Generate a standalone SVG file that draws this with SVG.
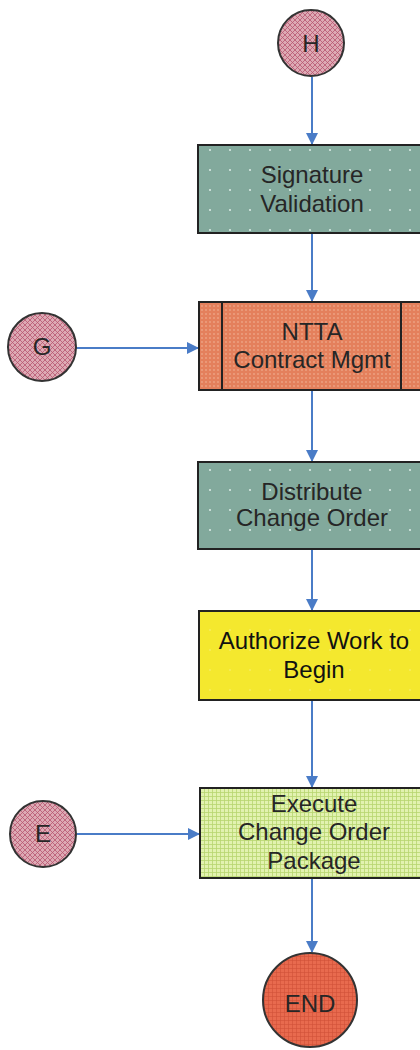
<svg xmlns="http://www.w3.org/2000/svg" width="420" height="1050" viewBox="0 0 420 1050">
<style>
.lbl{font-family:"Liberation Sans",Arial,sans-serif;font-size:24px;fill:#262626;text-anchor:middle}
.box{stroke:#222;stroke-width:2}
.circ{stroke:#333;stroke-width:2}
.con{stroke:#4a7cc7;stroke-width:2;fill:none;marker-end:url(#arr)}
</style>
<defs>
<marker id="arr" markerWidth="12" markerHeight="12" refX="11" refY="6" orient="auto" markerUnits="userSpaceOnUse">
<path d="M0,0 L12,6 L0,12 z" fill="#4a7cc7"/>
</marker>
<pattern id="pinkP" width="5" height="5" patternUnits="userSpaceOnUse">
<rect width="5" height="5" fill="#ddaab4"/>
<path d="M0,0 L5,5 M5,0 L0,5" stroke="#b85670" stroke-width="0.8"/>
</pattern>
<pattern id="tealP" width="20" height="20" patternUnits="userSpaceOnUse">
<rect width="20" height="20" fill="#82a99c"/>
<circle cx="10" cy="10" r="1" fill="#dfeee8"/>
</pattern>
<pattern id="orP" width="4" height="4" patternUnits="userSpaceOnUse">
<rect width="4" height="4" fill="#e4805c"/>
<circle cx="2" cy="2" r="0.7" fill="#f6c2a8"/>
</pattern>
<pattern id="yelP" width="20" height="20" patternUnits="userSpaceOnUse">
<rect width="20" height="20" fill="#f4e82e"/>
<circle cx="10" cy="10" r="0.8" fill="#f8f080"/>
</pattern>
<pattern id="grnP" width="4" height="4" patternUnits="userSpaceOnUse">
<rect width="4" height="4" fill="#e2f2b0"/>
<path d="M0,0.5 H4 M0.5,0 V4" stroke="#b8d670" stroke-width="0.8"/>
</pattern>
<pattern id="redP" width="4" height="4" patternUnits="userSpaceOnUse">
<rect width="4" height="4" fill="#e86a4e"/>
<path d="M0,0.5 H4 M0.5,0 V4" stroke="#d05038" stroke-width="0.6"/>
</pattern>
</defs>
<rect width="420" height="1050" fill="#ffffff"/>

<g id="connectors">
<line class="con" x1="312" y1="77" x2="312" y2="144"/>
<line class="con" x1="312" y1="233" x2="312" y2="301"/>
<line class="con" x1="76" y1="348" x2="198" y2="348"/>
<line class="con" x1="312" y1="390" x2="312" y2="461"/>
<line class="con" x1="312" y1="549" x2="312" y2="610"/>
<line class="con" x1="312" y1="700" x2="312" y2="787"/>
<line class="con" x1="77" y1="834" x2="199" y2="834"/>
<line class="con" x1="312" y1="878" x2="312" y2="952"/>
</g>

<g id="nodeH">
<circle class="circ" cx="311" cy="43" r="33" fill="url(#pinkP)"/>
<text class="lbl" x="311" y="52">H</text>
</g>

<g id="nodeSignature">
<rect class="box" x="198" y="145" width="230" height="88" fill="url(#tealP)"/>
<text class="lbl" x="312" y="183">Signature</text>
<text class="lbl" x="312" y="212">Validation</text>
</g>

<g id="nodeG">
<circle class="circ" cx="42" cy="347" r="34" fill="url(#pinkP)"/>
<text class="lbl" x="42" y="355">G</text>
</g>

<g id="nodeNTTA">
<rect class="box" x="199" y="302" width="230" height="88" fill="url(#orP)"/>
<line x1="222" y1="302" x2="222" y2="390" stroke="#222" stroke-width="2"/>
<line x1="401" y1="302" x2="401" y2="390" stroke="#222" stroke-width="2"/>
<text class="lbl" x="312" y="340">NTTA</text>
<text class="lbl" x="312" y="368">Contract Mgmt</text>
</g>

<g id="nodeDistribute">
<rect class="box" x="198" y="462" width="230" height="87" fill="url(#tealP)"/>
<text class="lbl" x="312" y="500">Distribute</text>
<text class="lbl" x="312" y="526">Change Order</text>
</g>

<g id="nodeAuthorize">
<rect class="box" x="199" y="611" width="230" height="89" fill="url(#yelP)"/>
<text class="lbl" x="314" y="649" style="fill:#111">Authorize Work to</text>
<text class="lbl" x="314" y="678" style="fill:#111">Begin</text>
</g>

<g id="nodeE">
<circle class="circ" cx="43" cy="834" r="33" fill="url(#pinkP)"/>
<text class="lbl" x="43" y="842">E</text>
</g>

<g id="nodeExecute">
<rect class="box" x="200" y="788" width="230" height="90" fill="url(#grnP)"/>
<text class="lbl" x="314" y="812">Execute</text>
<text class="lbl" x="314" y="840">Change Order</text>
<text class="lbl" x="314" y="869">Package</text>
</g>

<g id="nodeEND">
<circle class="circ" cx="310" cy="1000" r="47" fill="url(#redP)"/>
<text class="lbl" x="310" y="1012">END</text>
</g>
</svg>
